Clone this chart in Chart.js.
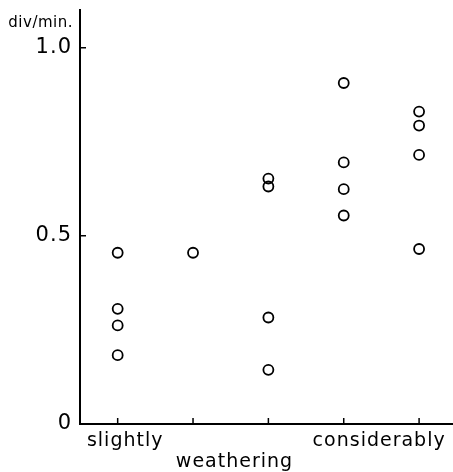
<!DOCTYPE html>
<html>
<head>
<meta charset="utf-8">
<script src="https://cdn.jsdelivr.net/npm/chart.js@4/dist/chart.umd.min.js"></script>
<style>
  html, body { margin: 0; padding: 0; background: #fff; }
  #wrap { width: 453px; height: 472px; position: relative; }
</style>
</head>
<body>
<div id="wrap"><canvas id="chart"></canvas></div>
<script>
// weathering grade (1 = slightly ... 5 = considerably)
const weatheringLevel = [1, 1, 1, 1, 2, 3, 3, 3, 3, 4, 4, 4, 4, 5, 5, 5, 5];
// rate, div/min.
const rate = [0.455, 0.306, 0.262, 0.183, 0.455, 0.652, 0.631, 0.283, 0.144,
              0.906, 0.695, 0.624, 0.554, 0.830, 0.793, 0.715, 0.465];

const xTickMarks = [1, 2, 3, 4, 5];
const xLabelPos = [1.1, 4.47];
const xLabels = ['slightly', 'considerably'];
const yTicks = [0, 0.5, 1.0];
const yTickLabels = ['0', '0.5', '1.0'];

const FONT = 'DejaVu Sans';

// 字间距（参考图的字形比较宽）
const spacing = {
    id: 'spacing',
    beforeInit(chart) { chart.ctx.letterSpacing = '1px'; },
    beforeLayout(chart) { chart.ctx.letterSpacing = '1px'; },
    beforeDraw(chart) { chart.ctx.letterSpacing = '1px'; }
};

// 向内的刻度线 + 单位 + 横轴标题
const innerTicks = {
    id: 'innerTicks',
    afterDraw(chart) {
        const ctx = chart.ctx;
        const xs = chart.scales.x, ys = chart.scales.y;
        const area = chart.chartArea;
        ctx.save();
        ctx.strokeStyle = '#000';
        ctx.lineWidth = 1.5;
        ctx.beginPath();
        xTickMarks.forEach(v => {
            const px = xs.getPixelForValue(v);
            ctx.moveTo(px, area.bottom);
            ctx.lineTo(px, area.bottom - 6);
        });
        yTicks.slice(1).forEach(v => {
            const py = ys.getPixelForValue(v);
            ctx.moveTo(area.left, py);
            ctx.lineTo(area.left + 6, py);
        });
        ctx.stroke();
        ctx.fillStyle = '#000';
        ctx.letterSpacing = '0.5px';
        ctx.font = '15px "' + FONT + '"';
        ctx.textAlign = 'right';
        ctx.textBaseline = 'middle';
        ctx.fillText('div/min.', area.left - 7, 23);
        ctx.letterSpacing = '1px';
        ctx.font = '19px "' + FONT + '"';
        ctx.textAlign = 'center';
        ctx.fillText('weathering', xs.getPixelForValue(2.55), 462);
        ctx.restore();
    }
};

const points = weatheringLevel.map((x, i) => ({ x: x, y: rate[i] }));

new Chart(document.getElementById('chart'), {
    type: 'scatter',
    data: {
        datasets: [{
            data: points,
            pointStyle: 'circle',
            pointRadius: 5,
            pointBorderWidth: 1.8,
            pointBorderColor: '#000',
            pointBackgroundColor: 'rgba(255,255,255,0)'
        }]
    },
    options: {
        responsive: true,
        maintainAspectRatio: false,
        animation: false,
        layout: { autoPadding: false, padding: { top: 10, right: 0, left: 0, bottom: 0 } },
        plugins: { legend: { display: false }, tooltip: { enabled: false } },
        scales: {
            x: {
                type: 'linear',
                min: 0.5,
                max: 5.45,
                grid: { display: false, drawTicks: false },
                border: { display: true, color: '#000', width: 2 },
                afterBuildTicks: scale => {
                    scale.ticks = xLabelPos.map(v => ({ value: v }));
                },
                ticks: {
                    autoSkip: false,
                    maxRotation: 0,
                    padding: 6,
                    color: '#000',
                    font: { family: FONT, size: 19 },
                    callback: (value, index) => xLabels[index]
                },
                afterFit: scale => {
                    scale.height = 48;
                    scale.paddingLeft = 0;
                    scale.paddingRight = 0;
                }
            },
            y: {
                min: 0,
                max: 1.1,
                grid: { display: false, drawTicks: false },
                border: { display: true, color: '#000', width: 2 },
                afterBuildTicks: scale => {
                    scale.ticks = yTicks.map(v => ({ value: v }));
                },
                ticks: {
                    padding: 8,
                    color: '#000',
                    font: { family: FONT, size: 21 },
                    callback: (value, index) => yTickLabels[index]
                },
                afterFit: scale => {
                    scale.width = 80;
                    scale.paddingTop = 0;
                    scale.paddingBottom = 0;
                }
            }
        }
    },
    plugins: [spacing, innerTicks]
});
</script>
</body>
</html>
